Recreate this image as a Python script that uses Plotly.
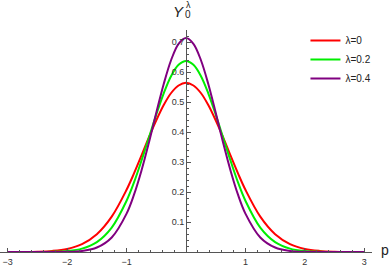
import plotly.graph_objects as go

p = [-3, -2.75, -2.5, -2.25, -2, -1.75, -1.5, -1.25, -1, -0.875, -0.75, -0.625, -0.5,
     -0.375, -0.25, -0.125, 0, 0.125, 0.25, 0.375, 0.5, 0.625, 0.75, 0.875, 1,
     1.25, 1.5, 1.75, 2, 2.25, 2.5, 2.75, 3]

# values from p = 0 outward (0, 0.125, 0.25, 0.375, 0.5, 0.625, 0.75, 0.875, 1, 1.25, ..., 3)
half_red = [0.564, 0.555, 0.530, 0.490, 0.439, 0.382, 0.321, 0.262, 0.2075,
            0.118, 0.0595, 0.0264, 0.0103, 0.0036, 0.0011, 0.0003, 0.0001]
half_green = [0.637, 0.624, 0.587, 0.529, 0.458, 0.381, 0.304, 0.232, 0.1707,
              0.0813, 0.0329, 0.0113, 0.0033, 0.0008, 0.0002, 0.0, 0.0]
half_purple = [0.713, 0.694, 0.640, 0.560, 0.464, 0.364, 0.271, 0.191, 0.128,
               0.0485, 0.0149, 0.0037, 0.0007, 0.0001, 0.0, 0.0, 0.0]

y_lam0 = half_red[::-1] + half_red[1:]
y_lam02 = half_green[::-1] + half_green[1:]
y_lam04 = half_purple[::-1] + half_purple[1:]

names = ["λ=0", "λ=0.2", "λ=0.4"]
colors = ["#ff0000", "#00ee00", "#800080"]
series = [y_lam0, y_lam02, y_lam04]

x_ticks = [-3, -2, -1, 1, 2, 3]
y_ticks = [0.1, 0.2, 0.3, 0.4, 0.5, 0.6, 0.7]

fig = go.Figure()
for n, c, ys in zip(names, colors, series):
    fig.add_trace(go.Scatter(x=p, y=ys, mode="lines", name=n,
                             line=dict(color=c, width=2, shape="spline", smoothing=1.0)))

FONT = "Liberation Sans, Arial, sans-serif"
axis_font = dict(family=FONT, size=9, color="#333")
fig.update_layout(
    width=390, height=267,
    margin=dict(l=0, r=18, t=30, b=15, autoexpand=False),
    paper_bgcolor="white", plot_bgcolor="white",
    font=axis_font,
    showlegend=True,
    legend=dict(x=1.012, y=1.018, xanchor="right", yanchor="top",
                font=dict(family=FONT, size=10, color="#222"),
                bgcolor="rgba(0,0,0,0)", tracegroupgap=0, itemwidth=30),
    xaxis=dict(range=[-3.13, 3.13], showgrid=False, zeroline=False, automargin=False,
               showline=True, linecolor="#555", linewidth=1,
               tickvals=x_ticks, ticks="inside", ticklen=4, tickcolor="#555",
               minor=dict(dtick=0.2, tick0=0, ticks="inside", ticklen=2, tickcolor="#555"),
               tickfont=axis_font, ticklabelstandoff=1),
    yaxis=dict(range=[0, 0.74], showgrid=False, zeroline=False, automargin=False,
               showline=True, linecolor="#555", linewidth=1,
               tickvals=y_ticks, ticks="inside", ticklen=4, tickcolor="#555",
               minor=dict(dtick=0.02, tick0=0, ticks="inside", ticklen=2, tickcolor="#555"),
               tickfont=axis_font, anchor="free", position=0.5, side="left"),
    annotations=[
        dict(x=0, y=1.0, xref="x", yref="paper", text="<i>Y</i>", showarrow=False,
             xanchor="right", yanchor="bottom", xshift=0, yshift=8,
             font=dict(family=FONT, size=15, color="#222")),
        dict(x=0, y=1.0, xref="x", yref="paper", text="λ", showarrow=False,
             xanchor="left", yanchor="bottom", xshift=-2, yshift=18,
             font=dict(family=FONT, size=9, color="#222")),
        dict(x=0, y=1.0, xref="x", yref="paper", text="0", showarrow=False,
             xanchor="left", yanchor="bottom", xshift=-3, yshift=8,
             font=dict(family=FONT, size=10, color="#222")),
        dict(x=1.036, y=0, xref="paper", yref="paper", text="p", showarrow=False,
             xanchor="center", yanchor="middle", yshift=2,
             font=dict(family=FONT, size=14, color="#222")),
    ],
)

fig.write_html("out.html", config={"displayModeBar": False},
               post_script="document.body.style.margin='0';document.body.style.overflow='hidden';")
